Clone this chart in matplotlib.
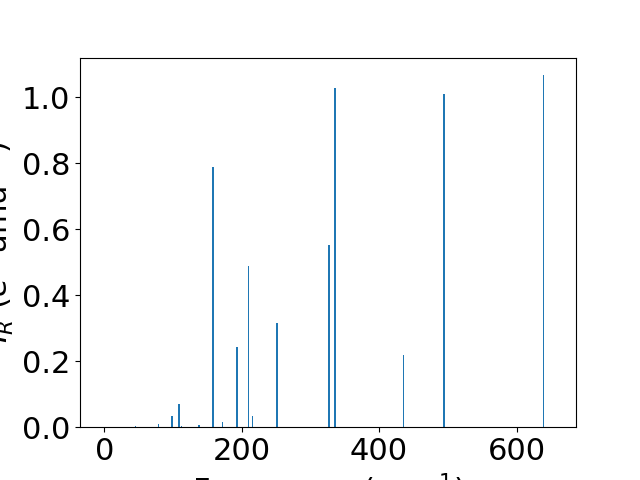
import matplotlib
matplotlib.use("Agg")
import matplotlib.pyplot as plt

freqs = [45.7, 78.6, 98.5, 108.7, 112.6, 137.8, 158.2, 172.3, 193.2, 209.7,
         215.5, 251.4, 326.8, 335.8, 435.3, 494.5, 639.1]
intensities = [0.003, 0.009, 0.034, 0.070, 0.003, 0.006, 0.790, 0.015, 0.243, 0.489,
               0.034, 0.316, 0.553, 1.030, 0.219, 1.012, 1.0676]

plt.rcParams['font.size'] = 22
fig, ax = plt.subplots(figsize=(6.4, 4.8), dpi=100)
ax.bar(freqs, intensities, width=2, color='#1f77b4')
ax.set_xlim(-35.4, 686.6)
ax.set_xticks([0, 200, 400, 600])
ax.set_xlabel(r'Frequency (cm$^{-1}$)')
ax.set_ylabel(r'$I_R$ ($e^2$ amu$^{-1}$)')
fig.savefig('out.png', dpi=100)
